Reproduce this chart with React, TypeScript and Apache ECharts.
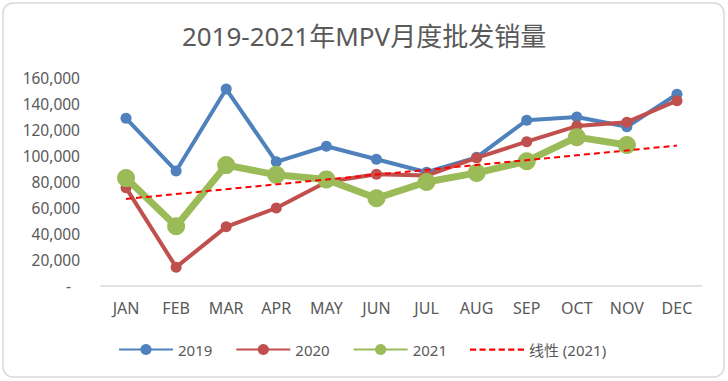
import React, { useEffect, useRef } from "react";
import * as echarts from "echarts";

const months = ["JAN", "FEB", "MAR", "APR", "MAY", "JUN", "JUL", "AUG", "SEP", "OCT", "NOV", "DEC"];
const sales2019 = [129000, 88500, 151500, 95500, 107500, 97500, 87500, 99000, 127500, 130000, 122500, 147500];
const sales2020 = [75500, 14500, 45500, 60000, 80000, 86000, 85000, 98500, 111000, 123000, 126000, 142500];
const sales2021 = [83000, 46000, 93000, 85500, 82000, 67500, 80000, 87000, 96000, 114500, 108500];
// trend line endpoints (JAN, DEC)
const trendStart = 67000;
const trendEnd = 108000;

const FONT = "'Noto Sans', 'Noto Sans CJK SC', sans-serif";
const TEXT = "#595959";
const DASH_ICON =
  "path://M0,0h5.5v2h-5.5z M8.5,0h5.5v2h-5.5z M17,0h5.5v2h-5.5z M25.5,0h5.5v2h-5.5z M34,0h5.5v2h-5.5z M42.5,0h5.5v2h-5.5z";

export default function App() {
  const ref = useRef<HTMLDivElement>(null);
  useEffect(() => {
    document.body.style.margin = "0";
    const chart = echarts.init(ref.current!, null, { renderer: "svg" });
    chart.setOption({
      animation: false,
      backgroundColor: "#ffffff",
      title: {
        text: "2019-2021年MPV月度批发销量",
        left: "center",
        top: 18,
        textStyle: { fontFamily: FONT, fontSize: 26, fontWeight: "normal", color: TEXT },
      },
      graphic: [
        {
          type: "rect",
          shape: { x: 3, y: 3, width: 721, height: 374, r: 10 },
          style: { fill: "none", stroke: "#d9d9d9", lineWidth: 1.5 },
          silent: true,
          z: 100,
        },
      ],
      grid: { left: 101, right: 26, top: 78, bottom: 95 },
      legend: {
        top: 337,
        left: 113,
        itemWidth: 54,
        itemHeight: 14,
        itemGap: 23,
        textStyle: { fontFamily: FONT, fontSize: 15, color: TEXT },
        data: [
          "2019",
          "2020",
          "2021",
          { name: "线性 (2021)", icon: DASH_ICON, itemStyle: { color: "#FF0000" } },
        ],
      },
      xAxis: {
        type: "category",
        data: months,
        boundaryGap: true,
        axisLine: { lineStyle: { color: "#d9d9d9", width: 1.5 } },
        axisTick: { show: false },
        axisLabel: { fontFamily: FONT, fontSize: 16, color: TEXT, margin: 14 },
      },
      yAxis: {
        type: "value",
        min: 0,
        max: 160000,
        interval: 20000,
        splitLine: { show: false },
        axisLine: { show: false },
        axisTick: { show: false },
        axisLabel: {
          fontFamily: FONT,
          fontSize: 15.5,
          color: TEXT,
          margin: 21,
          formatter: (v: number) =>
            v === 0 ? "{d|-}" : v.toLocaleString("en-US"),
          rich: { d: { fontFamily: FONT, fontSize: 15.5, color: TEXT, padding: [0, 9, 0, 0] } },
        },
      },
      series: [
        {
          name: "2019",
          type: "line",
          data: sales2019,
          color: "#4F81BD",
          symbol: "circle",
          symbolSize: 11,
          lineStyle: { width: 4 },
          z: 3,
        },
        {
          name: "2020",
          type: "line",
          data: sales2020,
          color: "#C0504D",
          symbol: "circle",
          symbolSize: 11,
          lineStyle: { width: 4 },
          z: 4,
        },
        {
          name: "2021",
          type: "line",
          data: sales2021,
          color: "#9BBB59",
          symbol: "circle",
          symbolSize: 18,
          lineStyle: { width: 7 },
          z: 5,
        },
        {
          name: "线性 (2021)",
          type: "line",
          data: [[0, trendStart], [11, trendEnd]],
          color: "#FF0000",
          symbol: "none",
          lineStyle: { width: 2, type: [6, 4] },
          z: 6,
        },
      ],
    });
    return () => chart.dispose();
  }, []);
  return <div ref={ref} style={{ width: 728, height: 381 }} />;
}
